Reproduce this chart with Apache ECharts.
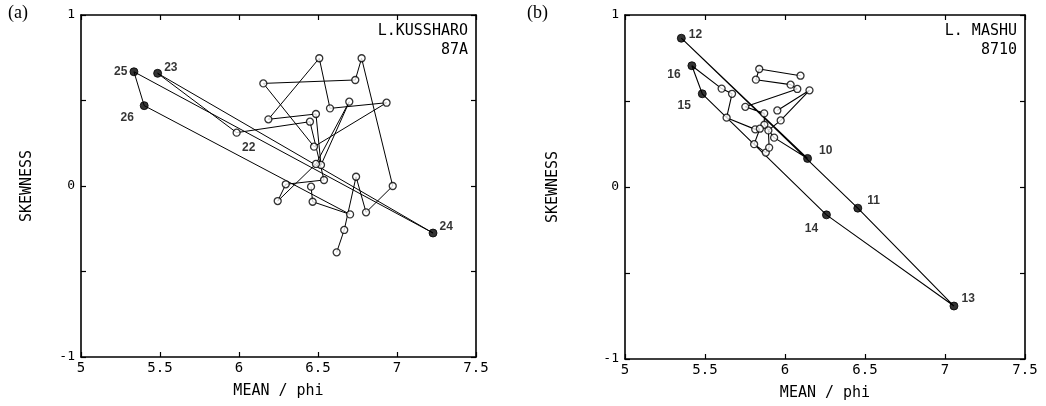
<!DOCTYPE html>
<html>
<head>
<meta charset="utf-8">
<script src="https://cdn.jsdelivr.net/npm/echarts@6/dist/echarts.min.js"></script>
<style>
  html, body { margin: 0; padding: 0; background: #fff; }
  #chart { width: 1046px; height: 406px; }
</style>
</head>
<body>
<div id="chart"></div>
<script>
// ---- Lake Kussharo (87A): samples in path order ----
const kussharoMean = [6.618, 6.666, 6.741, 6.804, 6.973, 6.776, 6.736, 6.154, 6.475, 6.934,
                      6.576, 6.508, 6.186, 6.487, 6.519, 6.698, 6.487, 6.245, 6.296, 6.538,
                      6.449, 5.985, 5.485, 7.228, 5.335, 5.400, 6.703, 6.466, 6.456];
const kussharoSkew = [-0.388, -0.257, 0.054, -0.154, 0.000, 0.747, 0.620, 0.600, 0.230, 0.487,
                      0.454, 0.747, 0.390, 0.421, 0.123, 0.493, 0.129, -0.088, 0.010, 0.035,
                      0.376, 0.312, 0.659, -0.275, 0.668, 0.470, -0.166, -0.092, -0.004];
const kussharoTags = ['', '', '', '', '', '', '', '', '', '', '', '', '', '', '', '', '', '', '', '',
                      '', '22', '23', '24', '25', '26', '', '', ''];
const kussharoSolid = [0, 0, 0, 0, 0, 0, 0, 0, 0, 0, 0, 0, 0, 0, 0, 0, 0, 0, 0, 0,
                       0, 0, 1, 1, 1, 1, 0, 0, 0];

// ---- Lake Mashu (8710): samples in path order ----
const mashuMean = [6.097, 5.839, 5.818, 6.035, 6.077, 5.752, 5.870, 5.871, 5.932,
                   6.141, 5.352, 6.455, 7.056, 6.259, 5.483, 5.418,
                   5.604, 5.669, 5.635, 5.814, 5.843, 5.807, 5.880, 5.901, 5.896, 5.973, 6.153, 5.952];
const mashuSkew = [0.647, 0.686, 0.624, 0.595, 0.570, 0.466, 0.428, 0.362, 0.287,
                   0.166, 0.865, -0.123, -0.692, -0.162, 0.542, 0.705,
                   0.572, 0.542, 0.403, 0.335, 0.339, 0.249, 0.200, 0.229, 0.329, 0.387, 0.562, 0.445];
const mashuTags = ['', '', '', '', '', '', '', '', '',
                   '10', '12', '11', '13', '14', '15', '16',
                   '', '', '', '', '', '', '', '', '', '', '', ''];
const mashuSolid = [0, 0, 0, 0, 0, 0, 0, 0, 0,
                    1, 1, 1, 1, 1, 1, 1,
                    0, 0, 0, 0, 0, 0, 0, 0, 0, 0, 0, 0];

// axis ticks
const meanTicks = ['5', '5.5', '6', '6.5', '7', '7.5'];
const skewTicks = ['-1', '0', '1'];

// where each sample number sits relative to its dot
const tagPlacement = {
  '22': { position: 'inside', offset: [12, 15] },
  '23': { position: 'right', offset: [-1, -6] },
  '24': { position: 'right', offset: [-1, -6] },
  '25': { position: 'left', offset: [1, 0] },
  '26': { position: 'inside', offset: [-17, 12] },
  '10': { position: 'right', offset: [4, -8] },
  '11': { position: 'right', offset: [2, -7] },
  '12': { position: 'right', offset: [0, -4] },
  '13': { position: 'right', offset: [0, -7] },
  '14': { position: 'inside', offset: [-15, 14] },
  '15': { position: 'inside', offset: [-18, 12] },
  '16': { position: 'inside', offset: [-18, 9] }
};

const MONO = '"DejaVu Sans Mono", "Liberation Mono", monospace';
const SANS = '"Liberation Sans", Arial, sans-serif';

function points(mean, skew) {
  return mean.map((m, i) => [m, skew[i]]);
}

function markers(mean, skew, tags, solid) {
  return mean.map((m, i) => {
    const item = {
      value: [m, skew[i]],
      symbolSize: solid[i] ? 8 : 7,
      itemStyle: solid[i]
        ? { color: '#000', borderColor: '#000', borderWidth: 1 }
        : { color: '#fff', borderColor: '#000', borderWidth: 1.3 }
    };
    if (tags[i]) {
      const p = tagPlacement[tags[i]];
      item.label = {
        show: true, formatter: tags[i], position: p.position, offset: p.offset,
        color: '#000', fontFamily: SANS, fontSize: 12, fontWeight: 'bold', distance: 3
      };
    }
    return item;
  });
}

const frameLine = { show: true, onZero: false, lineStyle: { color: '#000', width: 1.6 } };
const frameTick = { show: true, inside: true, length: 5, lineStyle: { color: '#000', width: 1.2 } };

function xAxes(gridIndex) {
  const base = {
    type: 'value', gridIndex: gridIndex, min: 5, max: 7.5, interval: 0.5,
    axisLine: frameLine, axisTick: frameTick, splitLine: { show: false }
  };
  return [
    Object.assign({}, base, {
      position: 'bottom',
      name: 'MEAN / phi', nameLocation: 'middle', nameGap: 27,
      nameTextStyle: { fontFamily: MONO, fontSize: 15, color: '#000' },
      axisLabel: {
        color: '#000', fontFamily: MONO, fontSize: 14, margin: 4,
        formatter: v => meanTicks.find(t => Math.abs(parseFloat(t) - v) < 1e-6) || ''
      }
    }),
    Object.assign({}, base, { position: 'top', axisLabel: { show: false } })
  ];
}

function yAxes(gridIndex, nameGap) {
  const base = {
    type: 'value', gridIndex: gridIndex, min: -1, max: 1, interval: 0.5,
    axisLine: frameLine, axisTick: frameTick, splitLine: { show: false }
  };
  return [
    Object.assign({}, base, {
      position: 'left',
      name: 'SKEWNESS', nameLocation: 'middle', nameGap: nameGap,
      nameTextStyle: { fontFamily: MONO, fontSize: 15, color: '#000' },
      axisLabel: {
        color: '#000', fontFamily: MONO, fontSize: 13, margin: 6,
        formatter: v => skewTicks.find(t => Math.abs(parseFloat(t) - v) < 1e-6) || ''
      }
    }),
    Object.assign({}, base, { position: 'right', axisLabel: { show: false } })
  ];
}

const chart = echarts.init(document.getElementById('chart'), null, { renderer: 'canvas' });

const xa = xAxes(0).concat(xAxes(1));
const ya = yAxes(0, 46).concat(yAxes(1, 64));

chart.setOption({
  animation: false,
  backgroundColor: '#fff',
  grid: [
    { left: 81, right: 570, top: 15, bottom: 49 },
    { left: 625, right: 21, top: 15, bottom: 46 }
  ],
  xAxis: xa,
  yAxis: ya,
  graphic: [
    { type: 'text', left: 8, top: 4, style: { text: '(a)', font: '18px "Liberation Serif", serif', fill: '#000' } },
    { type: 'text', left: 527, top: 4, style: { text: '(b)', font: '18px "Liberation Serif", serif', fill: '#000' } },
    { type: 'text', right: 578, top: 24, style: { text: 'L.KUSSHARO', font: '15px ' + MONO, fill: '#000', align: 'right' } },
    { type: 'text', right: 578, top: 43, style: { text: '87A', font: '15px ' + MONO, fill: '#000', align: 'right' } },
    { type: 'text', right: 29, top: 24, style: { text: 'L. MASHU', font: '15px ' + MONO, fill: '#000', align: 'right' } },
    { type: 'text', right: 29, top: 43, style: { text: '8710', font: '15px ' + MONO, fill: '#000', align: 'right' } }
  ],
  series: [
    {
      type: 'line', xAxisIndex: 0, yAxisIndex: 0, data: points(kussharoMean, kussharoSkew),
      symbol: 'none', lineStyle: { color: '#000', width: 1 }, z: 2
    },
    {
      type: 'scatter', xAxisIndex: 0, yAxisIndex: 0,
      data: markers(kussharoMean, kussharoSkew, kussharoTags, kussharoSolid),
      symbol: 'circle', z: 3
    },
    {
      type: 'line', xAxisIndex: 2, yAxisIndex: 2, data: points(mashuMean, mashuSkew),
      symbol: 'none', lineStyle: { color: '#000', width: 1.1 }, z: 2
    },
    {
      type: 'scatter', xAxisIndex: 2, yAxisIndex: 2,
      data: markers(mashuMean, mashuSkew, mashuTags, mashuSolid),
      symbol: 'circle', z: 3
    }
  ]
});
</script>
</body>
</html>
